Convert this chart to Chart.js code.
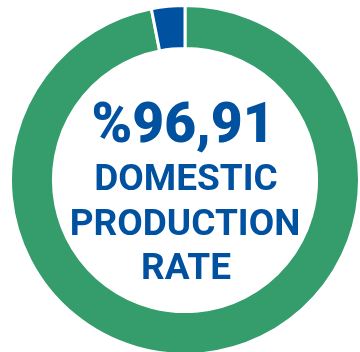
<html>

<head>
  <title>Domestic production rate</title>
  <script src="https://cdn.jsdelivr.net/npm/chart.js"></script>
  <style>
    body {
      margin: 0;
      width: 360px;
      height: 352px;
      overflow: hidden;
      background: #fff;
    }

    #wrap {
      position: absolute;
      left: 9px;
      top: 4px;
      width: 352px;
      height: 352px;
    }
  </style>
</head>

<body>
  <div id="wrap">
    <canvas id="rateChart"></canvas>
  </div>

  <script>
    // domestic share vs. the rest
    const labels = ["Domestic", "Imported"];
    const values = [96.91, 3.09];
    const colors = ["#359c6c", "#0052a0"];
    const centerLines = ["%96,91", "DOMESTIC", "PRODUCTION", "RATE"];

    const textColor = "#0052a0";

    // writes the rate and its caption in the hole of the ring
    const centerText = {
      id: 'centerText',
      afterDraw(chart) {
        const ctx = chart.ctx;
        const area = chart.chartArea;
        const cx = (area.left + area.right) / 2;
        const cy = (area.top + area.bottom) / 2;
        ctx.save();
        ctx.fillStyle = textColor;
        ctx.textAlign = 'center';
        ctx.textBaseline = 'alphabetic';

        ctx.font = '900 55px Roboto';
        ctx.fillText(centerLines[0], cx - 2, cy - 38);

        ctx.font = 'bold 37px Roboto';
        ctx.fillText(centerLines[1], cx + 1, cy + 10);
        ctx.fillText(centerLines[2], cx, cy + 55);
        ctx.fillText(centerLines[3], cx + 1, cy + 99);
        ctx.restore();
      }
    };

    new Chart('rateChart', {
      type: 'doughnut',
      data: {
        labels: labels,
        datasets: [{
          data: values,
          backgroundColor: colors,
          borderColor: '#ffffff',
          borderWidth: 3
        }]
      },
      options: {
        responsive: true,
        maintainAspectRatio: false,
        animation: false,
        cutout: '75.4%',
        plugins: {
          legend: { display: false },
          tooltip: { enabled: false }
        }
      },
      plugins: [centerText]
    });
  </script>
</body>

</html>
